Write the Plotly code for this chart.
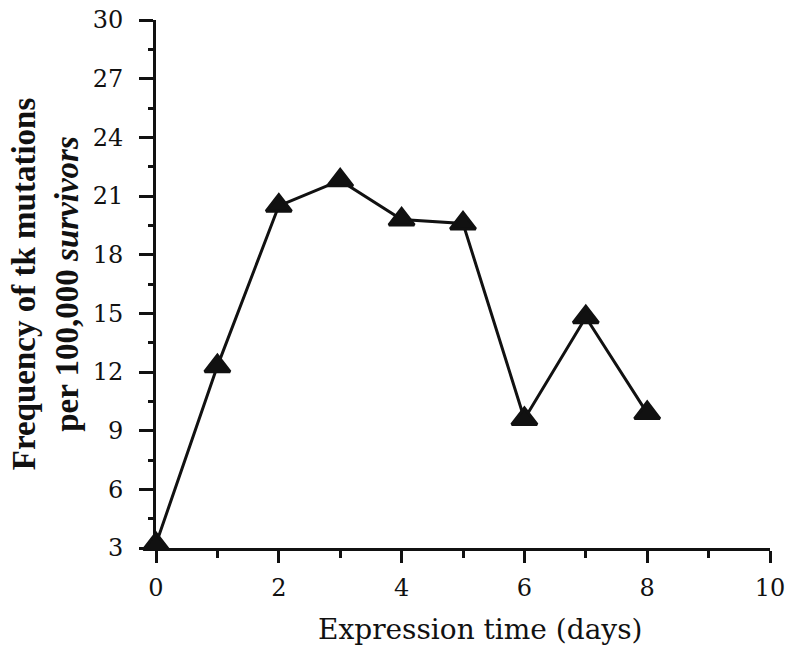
import plotly.graph_objects as go

days = [0, 1, 2, 3, 4, 5, 6, 7, 8]
frequency = [3.2, 12.3, 20.5, 21.8, 19.8, 19.6, 9.6, 14.8, 9.9]

x_ticks = [0, 2, 4, 6, 8, 10]
y_ticks = [3, 6, 9, 12, 15, 18, 21, 24, 27, 30]

TICK_FONT = "DejaVu Serif"
TITLE_FONT = "Liberation Serif"
INK = "#111111"

fig = go.Figure()
fig.add_trace(go.Scatter(
    x=days, y=frequency, mode="lines+markers",
    line=dict(color=INK, width=3),
    marker=dict(symbol="triangle-up", size=22, color=INK,
                line=dict(color=INK, width=3)),
    cliponaxis=False, showlegend=False,
))

fig.update_layout(
    width=785, height=649,
    margin=dict(l=156, r=15, t=20, b=101),
    paper_bgcolor="white", plot_bgcolor="white",
    font=dict(family=TICK_FONT, color=INK),
    xaxis=dict(
        range=[0, 10], tickvals=x_ticks, ticktext=[str(v) for v in x_ticks],
        automargin=False, ticklabeloverflow="allow",
        showgrid=False, zeroline=False, showline=True, linecolor=INK, linewidth=3,
        ticks="outside", ticklen=12, tickwidth=2.5, tickcolor=INK,
        minor=dict(dtick=1, ticks="outside", ticklen=7, tickwidth=2.5, tickcolor=INK),
        tickfont=dict(family=TICK_FONT, size=24, color=INK),
        ticklabelstandoff=4,
    ),
    yaxis=dict(
        range=[3, 30], tickvals=y_ticks, ticktext=[str(v) for v in y_ticks],
        automargin=False, ticklabeloverflow="allow",
        showgrid=False, zeroline=False, showline=True, linecolor=INK, linewidth=3,
        ticks="outside", ticklen=14, tickwidth=2.5, tickcolor=INK,
        minor=dict(dtick=1.5, tick0=3, ticks="outside", ticklen=5, tickwidth=2.5, tickcolor=INK),
        tickfont=dict(family=TICK_FONT, size=24, color=INK),
        ticklabelstandoff=11,
        title=dict(text="<b>Frequency of tk mutations</b><br><b>per 100,000 <i>survivors</i></b>",
                   font=dict(family=TITLE_FONT, size=33, color=INK), standoff=5),
    ),
    annotations=[dict(
        text="Expression time (days)", xref="paper", yref="paper",
        x=0.528, y=-0.155, xanchor="center", yanchor="middle", showarrow=False,
        font=dict(family=TICK_FONT, size=28, color=INK),
    )],
)

fig.write_html("out.html", config={"displayModeBar": False},
               post_script="document.body.style.margin='0';")
